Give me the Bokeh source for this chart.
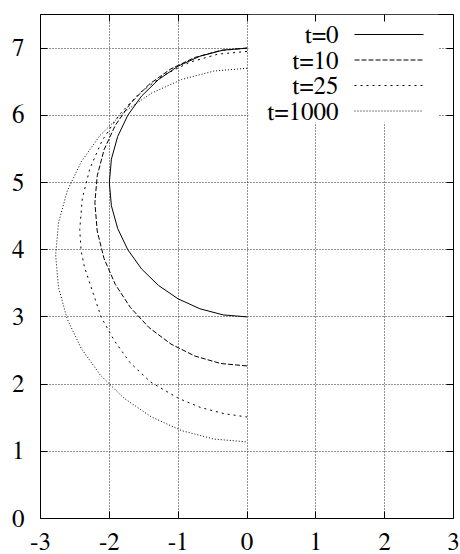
from bokeh.plotting import figure
from bokeh.models import Range1d, LinearAxis, Label, Arrow, BoxAnnotation, CustomLabelingPolicy
from bokeh.embed import file_html
from bokeh.resources import INLINE

# ---------------- data ----------------
x_ticks = [-3, -2, -1, 0, 1, 2, 3]
x_tick_labels = ["-3", "-2", "-1", "0", "1", "2", "3"]
y_ticks = [0, 1, 2, 3, 4, 5, 6, 7]
y_tick_labels = ["0", "1", "2", "3", "4", "5", "6", "7"]

series_names = ["t=0", "t=10", "t=25", "t=1000"]

t0_x = [0.0, -0.347, -0.684, -1.0, -1.286, -1.532, -1.732, -1.879, -1.970, -2.0,
        -1.970, -1.879, -1.732, -1.532, -1.286, -1.0, -0.684, -0.347, 0.0]
t0_y = [7.0, 6.970, 6.879, 6.732, 6.532, 6.286, 6.0, 5.684, 5.347, 5.0,
        4.653, 4.316, 4.0, 3.714, 3.468, 3.268, 3.121, 3.030, 3.0]

t10_x = [0.0, -0.384, -0.756, -1.105, -1.421, -1.693, -1.914, -2.077, -2.176, -2.21,
         -2.176, -2.077, -1.914, -1.693, -1.421, -1.105, -0.756, -0.384, 0.0]
t10_y = [7.0, 6.965, 6.861, 6.692, 6.462, 6.178, 5.85, 5.487, 5.099, 4.70,
         4.278, 3.869, 3.485, 3.138, 2.839, 2.596, 2.417, 2.307, 2.27]

t25_x = [0.0, -0.422, -0.831, -1.215, -1.562, -1.861, -2.104, -2.283, -2.393, -2.43,
         -2.41, -2.36, -2.28, -2.12, -1.93, -1.70, -1.40, -1.0, -0.67, -0.33, 0.0]
t25_y = [6.95, 6.910, 6.790, 6.595, 6.330, 6.003, 5.625, 5.206, 4.760, 4.30,
         3.98, 3.74, 3.49, 3.0, 2.65, 2.32, 2.03, 1.79, 1.65, 1.56, 1.51]

t1000_x = [0.0, -0.483, -0.951, -1.39, -1.787, -2.130, -2.408, -2.612, -2.738, -2.78,
           -2.738, -2.612, -2.408, -2.130, -1.787, -1.39, -0.951, -0.483, 0.0]
t1000_y = [6.70, 6.658, 6.532, 6.328, 6.050, 5.707, 5.31, 4.871, 4.403, 3.92,
           3.437, 2.969, 2.53, 2.133, 1.79, 1.512, 1.308, 1.182, 1.14]

series_x = [t0_x, t10_x, t25_x, t1000_x]
series_y = [t0_y, t10_y, t25_y, t1000_y]
series_dash = ["solid", "5 2", "2 4", "1 2"]

# ---------------- figure ----------------
FONT = "FreeSerif"

p = figure(width=460, height=554,
           x_range=Range1d(-3, 3), y_range=Range1d(0, 7.5),
           output_backend="svg", toolbar_location=None,
           min_border_left=40, min_border_right=7,
           min_border_top=14, min_border_bottom=36)
p.background_fill_color = "white"
p.border_fill_color = "white"
p.outline_line_color = "black"
p.outline_line_width = 1

no_labels = CustomLabelingPolicy(code="for (const i of indices) { indices.unset(i) } return indices")

def style_axis(ax, ticks, labels, show_labels, standoff):
    ax.ticker = ticks
    ax.major_label_overrides = dict(zip(ticks, labels))
    ax.axis_line_color = None
    ax.major_tick_in = 7
    ax.major_tick_out = 0
    ax.major_tick_line_color = "black"
    ax.minor_tick_in = 0
    ax.minor_tick_out = 0
    ax.major_label_standoff = standoff
    ax.major_label_text_font = FONT
    ax.major_label_text_color = "black"
    ax.major_label_text_font_size = "25px" if show_labels else "0px"
    if not show_labels:
        ax.major_label_policy = no_labels

style_axis(p.xaxis[0], x_ticks, x_tick_labels, True, 15)
style_axis(p.yaxis[0], y_ticks, y_tick_labels, True, 16)

top_axis = LinearAxis()
style_axis(top_axis, x_ticks, x_tick_labels, False, 0)
p.add_layout(top_axis, "above")
right_axis = LinearAxis()
style_axis(right_axis, y_ticks, y_tick_labels, False, 0)
p.add_layout(right_axis, "right")

for g in (p.xgrid[0], p.ygrid[0]):
    g.grid_line_color = "#222222"
    g.grid_line_dash = "1 2"
    g.grid_line_width = 1

# legend background (covers the grid behind the key)
legend_box = BoxAnnotation(left=208, right=398, bottom=396, top=504,
                           left_units="screen", right_units="screen",
                           bottom_units="screen", top_units="screen",
                           fill_color="white", fill_alpha=1.0,
                           line_color=None, level="underlay")
p.add_layout(legend_box)

# curves
for xs, ys, dash in zip(series_x, series_y, series_dash):
    p.line(xs, ys, line_color="black", line_width=1, line_dash=dash)

# key: label on the left, line sample on the right
row_y = [484, 458.5, 433, 407.5]
for name, dash, ry in zip(series_names, series_dash, row_y):
    p.add_layout(Label(x=298, y=ry - 1, x_units="screen", y_units="screen",
                       text=name, text_align="right", text_baseline="middle",
                       text_font=FONT, text_font_size="25px", text_color="black"))
    p.add_layout(Arrow(end=None, x_start=314, y_start=ry, x_end=383, y_end=ry,
                       start_units="screen", end_units="screen",
                       line_color="black", line_width=1, line_dash=dash))

open("out.html", "w").write(file_html(p, INLINE))
